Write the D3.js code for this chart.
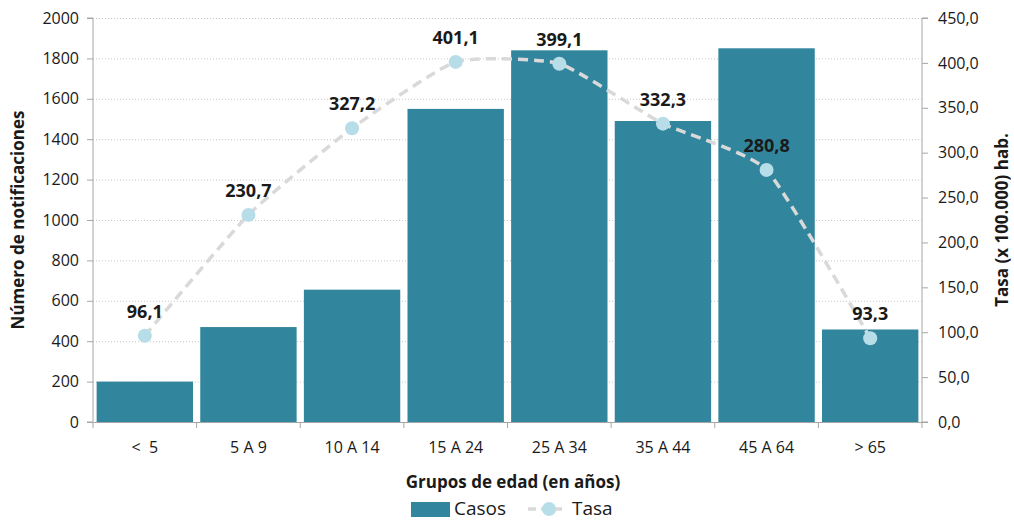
<!DOCTYPE html>
<html><head><meta charset="utf-8">
<script src="https://cdn.jsdelivr.net/npm/d3@7"></script>
<style>
body{margin:0;background:#fff;}
text{font-family:"Open Sans",sans-serif;fill:#1a1a1a;}
</style></head>
<body><svg id="c" width="1014" height="520"></svg>
<script>
const categories = ["<  5","5 A 9","10 A 14","15 A 24","25 A 34","35 A 44","45 A 64","> 65"];
const casos = [200, 470, 655, 1550, 1840, 1490, 1850, 458];
const tasa = [96.1, 230.7, 327.2, 401.1, 399.1, 332.3, 280.8, 93.3];
const leftTicks = [0,200,400,600,800,1000,1200,1400,1600,1800,2000];
const rightTicks = [0,50,100,150,200,250,300,350,400,450];

const svg = d3.select("#c");
const L = 93, R = 922, T = 18, B = 422;
const x = d3.scaleBand().domain(categories).range([L,R]).paddingInner(0.07).paddingOuter(0.035);
const xb = d3.scaleBand().domain(categories).range([L,R]);
const yL = d3.scaleLinear().domain([0,2000]).range([B,T]);
const yR = d3.scaleLinear().domain([0,450]).range([B,T]);
const fmt = v => d3.format(".1f")(v).replace(".",",");

// gridlines
svg.append("g").selectAll("line").data(leftTicks.filter(d=>d>0)).join("line")
  .attr("x1",L).attr("x2",R).attr("y1",d=>yL(d)+0.5).attr("y2",d=>yL(d)+0.5)
  .attr("stroke","#c8c8c8").attr("stroke-width",1).attr("stroke-dasharray","1,2");

// bars
svg.append("g").selectAll("rect").data(categories).join("rect")
  .attr("x",d=>x(d)).attr("width",x.bandwidth())
  .attr("y",(d,i)=>yL(casos[i])).attr("height",(d,i)=>B-yL(casos[i]))
  .attr("fill","#31859c");

// axes
const gl = svg.append("g").attr("transform",`translate(${L},0)`)
  .call(d3.axisLeft(yL).tickValues(leftTicks).tickFormat(d3.format("d")).tickSize(6).tickPadding(8));
const gr = svg.append("g").attr("transform",`translate(${R},0)`)
  .call(d3.axisRight(yR).tickValues(rightTicks).tickFormat(fmt).tickSize(6).tickPadding(10));
const gx = svg.append("g").attr("transform",`translate(0,${B})`)
  .call(d3.axisBottom(xb).tickSize(0).tickPadding(20));
[gl,gr,gx].forEach(g=>{
  g.select(".domain").attr("stroke","#a6a6a6");
  g.selectAll(".tick line").attr("stroke","#a6a6a6");
  g.selectAll(".tick text").style("font-family","'Open Sans',sans-serif").style("font-size","16px").attr("fill","#1a1a1a");
});
gl.select(".domain").attr("d",`M-6,${B}H0V${T}H-6`);
gr.select(".domain").attr("d",`M6,${B}H0V${T}H6`);
gx.selectAll(".tick text").style("white-space","pre").attr("xml:space","preserve");
// category boundary ticks on x axis
svg.append("g").selectAll("line").data(d3.range(categories.length+1)).join("line")
  .attr("x1",i=>L+i*xb.step()).attr("x2",i=>L+i*xb.step())
  .attr("y1",B).attr("y2",B+6).attr("stroke","#a6a6a6");

// line
const px = i => xb(categories[i]) + xb.bandwidth()/2;
const line = d3.line().x((d,i)=>px(i)).y(d=>yR(d)).curve(d3.curveCardinal.tension(0.5));
svg.append("path").datum(tasa).attr("d",line).attr("fill","none")
  .attr("stroke","#d9d9d9").attr("stroke-width",3.5).attr("stroke-dasharray","10,6");
svg.append("g").selectAll("circle").data(tasa).join("circle")
  .attr("cx",(d,i)=>px(i)).attr("cy",d=>yR(d)).attr("r",7).attr("fill","#b7dde8");
svg.append("g").selectAll("text").data(tasa).join("text")
  .attr("x",(d,i)=>px(i)).attr("y",d=>yR(d)-18).attr("text-anchor","middle")
  .style("font-size","18px").style("font-weight","bold").attr("fill","#000").text(fmt);

// titles
svg.append("text").attr("transform","translate(24,220) rotate(-90)").attr("text-anchor","middle")
  .style("font-size","17px").style("font-weight","bold").text("Número de notificaciones");
svg.append("text").attr("transform","translate(1008,220) rotate(-90)").attr("text-anchor","middle")
  .style("font-size","17px").style("font-weight","bold").text("Tasa (x 100.000) hab.");
svg.append("text").attr("x",513).attr("y",488).attr("text-anchor","middle")
  .style("font-size","17px").style("font-weight","bold").text("Grupos de edad (en años)");

// legend
const lg = svg.append("g");
lg.append("rect").attr("x",411).attr("y",502).attr("width",39).attr("height",15).attr("fill","#31859c");
lg.append("text").attr("x",454).attr("y",515).style("font-size","19px").text("Casos");
lg.append("line").attr("x1",528).attr("x2",566).attr("y1",509).attr("y2",509)
  .attr("stroke","#d9d9d9").attr("stroke-width",3.5).attr("stroke-dasharray","8,5");
lg.append("circle").attr("cx",549).attr("cy",509).attr("r",7).attr("fill","#b7dde8");
lg.append("text").attr("x",572).attr("y",515).style("font-size","19px").text("Tasa");
</script></body></html>
